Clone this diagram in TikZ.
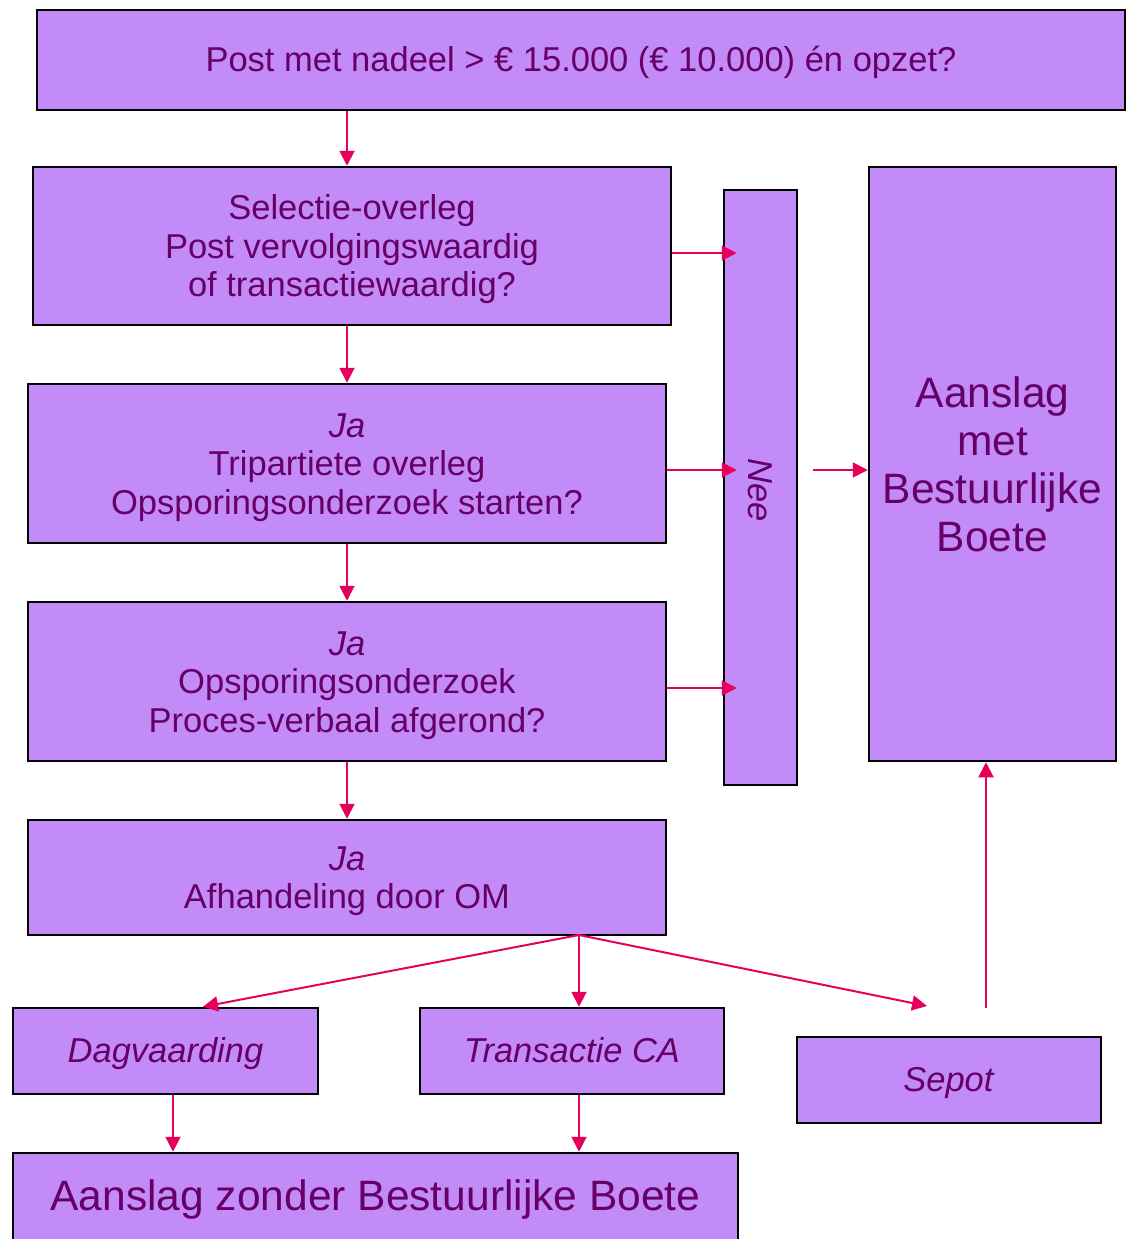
\documentclass[tikz,border=0pt]{standalone}
\usepackage{fontspec}
\setmainfont{Liberation Sans}
\usetikzlibrary{arrows.meta}
\definecolor{boxfill}{RGB}{195,139,248}
\definecolor{boxtext}{RGB}{102,0,102}
\definecolor{arrowc}{RGB}{230,0,92}
\newcommand{\firststrut}{\rule{0pt}{36pt}}
\newcommand{\laststrut}{\rule[-12pt]{0pt}{12pt}}
\tikzset{
  flowbox/.style={draw=black, line width=2.5pt, fill=boxfill, text=boxtext, align=center, inner sep=0pt, anchor=center},
  midtext/.style={font=\fontsize{34.5}{38.5}\selectfont},
  bigtext/.style={font=\fontsize{42.5}{48}\selectfont},
  arr/.style={draw=arrowc, line width=2pt, -{Triangle[length=15pt,width=15pt]}},
}
\begin{document}
\begin{tikzpicture}[x=1pt,y=-1pt]
\useasboundingbox (0,0) rectangle (1128,1239);
% boxes
\node[flowbox, midtext, minimum width=1088pt, minimum height=100pt, text depth=2pt] (post) at (581,60) {Post met nadeel > € 15.000 (€ 10.000) én opzet?};
\node[flowbox, midtext, minimum width=638pt, minimum height=158pt] (sel) at (352,246) {\firststrut Selectie-overleg\\Post vervolgingswaardig\\of transactiewaardig?\laststrut};
\node[flowbox, midtext, minimum width=638pt, minimum height=159pt] (tri) at (347,463.5) {\firststrut\textit{Ja}\\Tripartiete overleg\\Opsporingsonderzoek starten?\laststrut};
\node[flowbox, midtext, minimum width=638pt, minimum height=159pt] (ops) at (347,681.5) {\firststrut\textit{Ja}\\Opsporingsonderzoek\\Proces-verbaal afgerond?\laststrut};
\node[flowbox, midtext, minimum width=638pt, minimum height=115pt] (om) at (347,877.5) {\firststrut\textit{Ja}\\Afhandeling door OM\laststrut};
\node[flowbox, minimum width=73pt, minimum height=595pt] (nee) at (760.5,487.5) {};
\node[text=boxtext, midtext, rotate=-90] (neetxt) at (760,490) {\textit{Nee}};
\node[flowbox, bigtext, minimum width=247pt, minimum height=594pt] (abb) at (992.5,464) {Aanslag\\met\\Bestuurlijke\\Boete};
\node[flowbox, midtext, minimum width=305pt, minimum height=86pt, text depth=2pt] (dag) at (165.5,1051) {\textit{Dagvaarding}};
\node[flowbox, midtext, minimum width=304pt, minimum height=86pt, text depth=2pt] (tca) at (572,1051) {\textit{Transactie CA}};
\node[flowbox, midtext, minimum width=304pt, minimum height=86pt, text depth=2pt] (sep) at (949,1080) {\textit{Sepot}};
\node[flowbox, bigtext, minimum width=725pt, minimum height=88pt, text depth=4pt] (azb) at (375.5,1197) {Aanslag zonder Bestuurlijke Boete};
% connectors
\coordinate (fan) at (579,935);
\coordinate (sepin) at (927,1006);
\coordinate (sepout) at (986,1008);
\draw[arr] (post.south -| 347,0) -- (sel.north -| 347,0);
\draw[arr] (sel.south -| 347,0) -- (tri.north -| 347,0);
\draw[arr] (tri.south -| 347,0) -- (ops.north -| 347,0);
\draw[arr] (ops.south -| 347,0) -- (om.north -| 347,0);
\draw[arr, shorten >=-14pt] (sel.east |- 0,253) -- (nee.west |- 0,253);
\draw[arr, shorten >=-14pt] (tri.east |- 0,470) -- (nee.west |- 0,470);
\draw[arr, shorten >=-14pt] (ops.east |- 0,688) -- (nee.west |- 0,688);
\draw[arr] ([xshift=15pt]nee.east |- 0,470) -- (abb.west |- 0,470);
\draw[arr] (fan) -- (dag.north -| 203,0);
\draw[arr] (fan) -- (tca.north -| 579,0);
\draw[arr] (fan) -- (sepin);
\draw[arr] (sepout) -- (abb.south -| 986,0);
\draw[arr] (dag.south -| 173,0) -- (azb.north -| 173,0);
\draw[arr] (tca.south -| 579,0) -- (azb.north -| 579,0);
\end{tikzpicture}
\end{document}
